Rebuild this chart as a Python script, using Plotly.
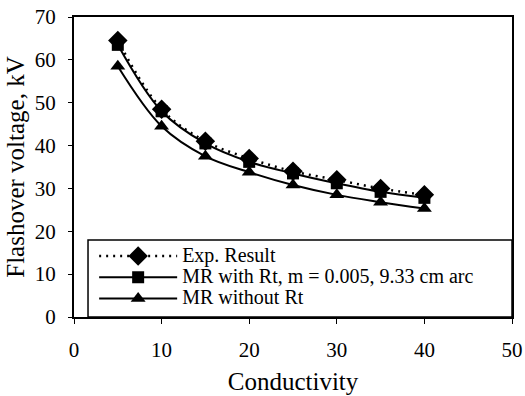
import plotly.graph_objects as go

conductivity = [5, 10, 15, 20, 25, 30, 35, 40]
exp_result = [64.5, 48.5, 41.0, 37.0, 34.0, 32.0, 30.0, 28.5]
mr_with_rt = [63.5, 48.0, 40.5, 36.2, 33.5, 31.2, 29.2, 27.8]
mr_without_rt = [58.5, 44.5, 37.5, 33.8, 30.8, 28.5, 26.8, 25.3]

x_ticks = [0, 10, 20, 30, 40, 50]
y_ticks = [0, 10, 20, 30, 40, 50, 60, 70]

names = ["Exp. Result", "MR with Rt, m = 0.005, 9.33 cm arc", "MR without Rt"]

FONT = "Liberation Serif, Times New Roman, serif"
TXT = 21
LEG_TXT = 20


def big(s):
    return '<span style="font-size:%dpx">%s</span>' % (LEG_TXT, s)


fig = go.Figure()
fig.add_trace(go.Scatter(
    x=conductivity, y=exp_result, name=big(names[0]),
    mode="lines+markers", line=dict(color="black", width=2.5, dash="2px,5px", shape="spline"),
    marker=dict(symbol="diamond", size=15, color="black")))
fig.add_trace(go.Scatter(
    x=conductivity, y=mr_with_rt, name=big(names[1]),
    mode="lines+markers", line=dict(color="black", width=2, shape="spline"),
    marker=dict(symbol="square", size=12, color="black")))
fig.add_trace(go.Scatter(
    x=conductivity, y=mr_without_rt, name=big(names[2]),
    mode="lines+markers", line=dict(color="black", width=2, shape="spline"),
    marker=dict(symbol="triangle-up", size=13, color="black")))

fig.add_shape(type="rect", xref="paper", yref="paper", x0=0.032, x1=1, y0=0, y1=0.257,
              line=dict(color="black", width=1.5), fillcolor="white", layer="above")

fig.update_layout(
    width=525, height=396,
    margin=dict(l=74, r=13, t=17, b=79),
    paper_bgcolor="white", plot_bgcolor="white",
    font=dict(family=FONT, size=TXT, color="black"),
    showlegend=True,
    legend=dict(x=0.046, y=0.255, xanchor="left", yanchor="top",
                bgcolor="rgba(0,0,0,0)", borderwidth=0,
                font=dict(size=14), itemwidth=78),
    xaxis=dict(range=[0, 50], tickvals=x_ticks, showgrid=False, zeroline=False,
               showline=True, linecolor="black", linewidth=2, mirror=True,
               ticks="outside", ticklen=5, tickcolor="black", automargin=False,
               ticklabelstandoff=8,
               title=dict(text="Conductivity", standoff=11)),
    yaxis=dict(range=[0, 70], tickvals=y_ticks, showgrid=False, zeroline=False,
               showline=True, linecolor="black", linewidth=2, mirror=True,
               ticks="outside", ticklen=4, tickcolor="black", automargin=False,
               ticklabelstandoff=8,
               title=dict(text="Flashover voltage, kV", standoff=3)),
)

fig.write_html("out.html", config={"displayModeBar": False},
               post_script="document.body.style.margin='0';")
